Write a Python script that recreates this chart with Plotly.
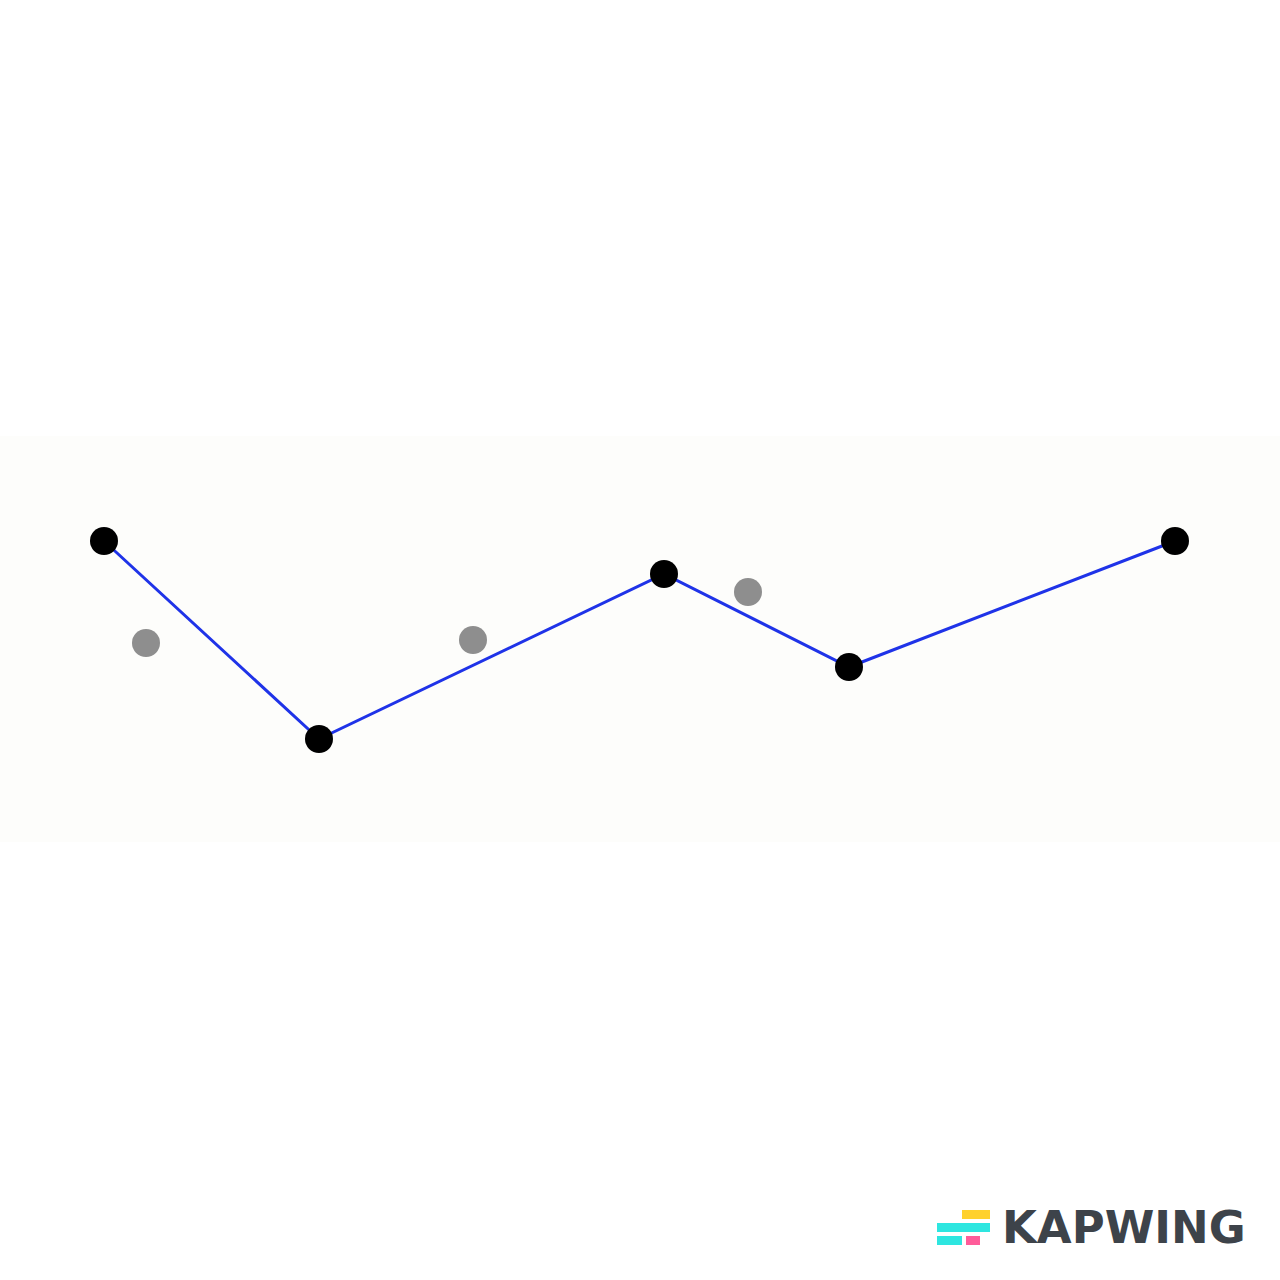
import plotly.graph_objects as go

# Main series (blue line with black points)
line_x = [10.4, 31.9, 66.4, 84.9, 117.5]
line_y = [73.9, 54.1, 70.6, 61.3, 73.9]

# Secondary points (gray)
gray_x = [14.6, 47.3, 74.8]
gray_y = [63.7, 64.0, 68.8]

# Band extent (y units)
band_y = [43.8, 84.4]

logo_text = "KAPWING"

fig = go.Figure()

fig.add_trace(go.Scatter(
    x=gray_x, y=gray_y, mode="markers",
    marker=dict(size=28, color="#8E8E8E"),
    hoverinfo="skip", showlegend=False,
))
fig.add_trace(go.Scatter(
    x=line_x, y=line_y, mode="lines+markers",
    line=dict(color="#1F33E8", width=3),
    marker=dict(size=28, color="#000000"),
    hoverinfo="skip", showlegend=False,
))

shapes = [
    dict(type="rect", xref="paper", yref="y", x0=0, x1=1, y0=band_y[0], y1=band_y[1],
         fillcolor="#FDFDFB", line=dict(width=0), layer="below"),
]

W = 1280.0
def px_rect(x0, y0, x1, y1, color):
    return dict(type="rect", xref="paper", yref="paper",
                x0=x0 / W, x1=x1 / W, y0=1 - y1 / W, y1=1 - y0 / W,
                fillcolor=color, line=dict(width=0))

shapes += [
    px_rect(962, 1210, 990, 1219, "#FFD12E"),
    px_rect(937, 1223, 990, 1232, "#2EE6E0"),
    px_rect(937, 1236, 962, 1245, "#2EE6E0"),
    px_rect(966, 1236, 980, 1245, "#FF5C9A"),
]

fig.update_layout(
    width=1280, height=1280,
    margin=dict(l=0, r=0, t=0, b=0),
    paper_bgcolor="#FFFFFF", plot_bgcolor="#FFFFFF",
    xaxis=dict(range=[0, 128], visible=False, fixedrange=True),
    yaxis=dict(range=[0, 128], visible=False, fixedrange=True),
    shapes=shapes,
    annotations=[dict(
        text="<b>%s</b>" % logo_text, xref="paper", yref="paper",
        x=1000 / W, y=1 - 1227 / W, xanchor="left", yanchor="middle",
        showarrow=False, font=dict(family="DejaVu Sans", size=45, color="#3D434A"),
    )],
)

fig.write_html("out.html", config={"displayModeBar": False},
               post_script="document.body.style.margin='0';")
